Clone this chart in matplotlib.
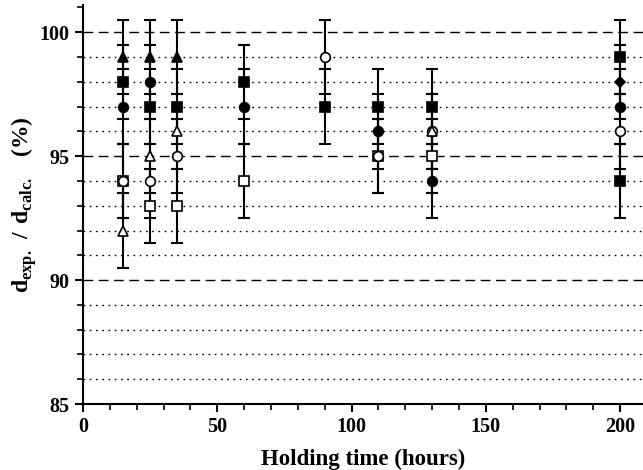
import matplotlib
matplotlib.use("Agg")
from matplotlib import pyplot as plt
from matplotlib.ticker import MultipleLocator

plt.rcParams['font.family'] = ['Liberation Serif', 'DejaVu Serif']
plt.rcParams['font.weight'] = 'bold'
plt.rcParams['mathtext.fontset'] = 'custom'
plt.rcParams['mathtext.rm'] = 'Liberation Serif'
plt.rcParams['mathtext.bf'] = 'Liberation Serif:bold'

# data (hours, percent), error +-1.5 on every point
tri_fill_x = [15, 25, 35]
tri_fill_y = [99, 99, 99]
sq_fill_x = [15, 25, 35, 60, 90, 110, 130, 200, 200]
sq_fill_y = [98, 97, 97, 98, 97, 97, 97, 99, 94]
circ_fill_x = [15, 25, 60, 110, 130, 200]
circ_fill_y = [97, 98, 97, 96, 94, 97]
sq_open_x = [15, 25, 35, 60, 110, 130]
sq_open_y = [94, 93, 93, 94, 95, 95]
circ_open_x = [15, 25, 35, 90, 110, 130, 200]
circ_open_y = [94, 94, 95, 99, 95, 96, 96]
tri_open_x = [15, 25, 35, 130]
tri_open_y = [92, 95, 96, 96]
dia_fill_x = [200]
dia_fill_y = [98]
err = 1.5

fig = plt.figure(figsize=(6.43, 4.70), dpi=100)
ax = fig.add_axes([0.129, 0.1404, 0.871, 0.849])

for v in range(86, 101):
    if v % 5 == 0:
        ax.axhline(v, color="black", lw=1.0, ls=(0, (7, 4)), zorder=1)
    else:
        ax.axhline(v, color="black", lw=1.0, ls=(0, (1.2, 3.3)), zorder=1)

series = [
    (sq_open_x, sq_open_y, "s", "white", 6.5),
    (circ_open_x, circ_open_y, "o", "white", 7),
    (tri_open_x, tri_open_y, "^", "white", 7.5),
    (sq_fill_x, sq_fill_y, "s", "black", 6.5),
    (circ_fill_x, circ_fill_y, "o", "black", 7),
    (tri_fill_x, tri_fill_y, "^", "black", 7.5),
    (dia_fill_x, dia_fill_y, "D", "black", 5.5),
]
for xs, ys, m, fc, ms in series:
    ax.errorbar(xs, ys, yerr=err, fmt="none", ecolor="black",
                elinewidth=1.5, capsize=4.5, capthick=1.5, zorder=2)
for xs, ys, m, fc, ms in series:
    ax.plot(xs, ys, ls="none", marker=m, ms=ms, mfc=fc, mec="black",
            mew=1.2, zorder=3)

ax.set_xlim(0, 208.5)
ax.set_ylim(85, 101.1)
ax.xaxis.set_major_locator(MultipleLocator(50))
ax.xaxis.set_minor_locator(MultipleLocator(10))
ax.yaxis.set_major_locator(MultipleLocator(5))
ax.yaxis.set_minor_locator(MultipleLocator(1))
ax.tick_params(which="major", direction="out", length=6, width=1.5,
               labelsize=14.5)
ax.tick_params(which="minor", direction="out", length=4, width=1.2)
ax.spines["top"].set_visible(False)
ax.spines["right"].set_visible(False)
ax.spines["left"].set_linewidth(1.5)
ax.spines["bottom"].set_linewidth(1.5)
for lab in ax.get_xticklabels() + ax.get_yticklabels():
    lab.set_fontweight("bold")

ax.set_xlabel("Holding time (hours)", fontsize=16.5, fontweight="bold",
              labelpad=8)
ax.set_ylabel(r"$\mathbf{d}_{\mathbf{exp.}}\ \mathbf{/\ d}_{\mathbf{calc.}}$   (%)",
              fontsize=17, fontweight="bold")
ax.yaxis.set_label_coords(-0.078, 0.5)

fig.savefig("out.png", dpi=100)
